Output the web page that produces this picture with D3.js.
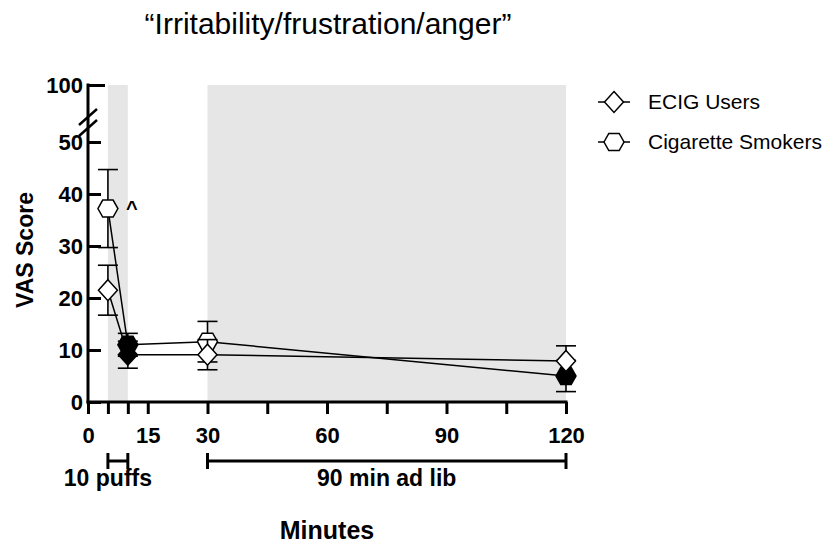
<!DOCTYPE html>
<html>
<head>
<meta charset="utf-8">
<title>Irritability/frustration/anger</title>
<script src="https://d3js.org/d3.v7.min.js"></script>
<style>
body { margin: 0; background: #fff; }
svg { font-family: "Liberation Sans", Arial, Helvetica, sans-serif; }
</style>
</head>
<body>
<svg id="chart" width="830" height="548"></svg>
<script>
// time points (minutes)
var times = [5, 10, 30, 120];

// ECIG users (diamonds)
var ecigMean = [21.5, 9.1, 9.1, 7.9];
var ecigErr = [4.8, 2.6, 2.9, 2.9];
var ecigFilled = [false, true, false, false];

// cigarette smokers (hexagons)
var cigMean = [37.2, 11.0, 11.6, 5.0];
var cigErr = [7.5, 2.2, 3.9, 3.0];
var cigFilled = [false, true, false, true];

var xTicks = [0, 5, 10, 15, 30, 45, 60, 75, 90, 105, 120];
var xLabels = [0, 15, 30, 60, 90, 120];
var yTicks = [0, 10, 20, 30, 40, 50, 100];

var shaded = [[5, 10], [30, 120]];
var brackets = [
    {from: 5, to: 10, labelAt: 5, label: "10 puffs"},
    {from: 30, to: 120, labelAt: 75, label: "90 min ad lib"}
];

var svg = d3.select("#chart");

var x = d3.scaleLinear().domain([0, 120]).range([88, 566]);
// broken axis: 0-50 on the lower segment, 50-100 squeezed on top
var y = d3.scaleLinear().domain([0, 50, 100]).range([402, 142, 85]);

// shaded periods
svg.selectAll("rect.shade")
    .data(shaded)
  .enter().append("rect")
    .attr("class", "shade")
    .attr("x", function(d) { return x(d[0]); })
    .attr("width", function(d) { return x(d[1]) - x(d[0]); })
    .attr("y", y(100))
    .attr("height", y(0) - y(100))
    .attr("fill", "#e6e6e6");

// title
svg.append("text")
    .attr("x", 328).attr("y", 34)
    .attr("text-anchor", "middle")
    .attr("font-size", 30)
    .text("\u201cIrritability/frustration/anger\u201d");

// x axis
var xAxis = d3.axisBottom(x)
    .tickValues(xTicks)
    .tickSize(12)
    .tickSizeOuter(0)
    .tickFormat(function(d) { return xLabels.indexOf(d) >= 0 ? d : ""; });

var gx = svg.append("g")
    .attr("transform", "translate(0," + y(0) + ")")
    .call(xAxis);
gx.select(".domain").attr("stroke-width", 3).attr("d", "M" + (x(0) - 1.5) + ",0H" + (x(120) + 1.5));
gx.selectAll(".tick line").attr("stroke-width", 3);
gx.selectAll(".tick text")
    .attr("font-size", 22).attr("font-weight", "bold")
    .attr("font-family", "Liberation Sans, Arial, sans-serif")
    .attr("fill", "#000").attr("dy", "1.2em");

// y axis, ticks pointing inward
var yAxis = d3.axisLeft(y)
    .tickValues(yTicks)
    .tickSize(-13)
    .tickSizeOuter(0)
    .tickPadding(5);

var gy = svg.append("g")
    .attr("transform", "translate(" + x(0) + ",0)")
    .call(yAxis);
gy.select(".domain").attr("stroke-width", 3).attr("d", "M0," + (y(100) - 1.5) + "V" + (y(0) + 1.5));
gy.selectAll(".tick line").attr("stroke-width", 3);
gy.selectAll(".tick text")
    .attr("font-size", 22).attr("font-weight", "bold")
    .attr("font-family", "Liberation Sans, Arial, sans-serif")
    .attr("fill", "#000").attr("x", -5);
// top tick extends further
gy.selectAll(".tick").filter(function(d) { return d === 100; })
    .select("line").attr("x2", 17);

// axis break marks
var breakY = [117, 128];
svg.selectAll("line.brk")
    .data(breakY)
  .enter().append("line")
    .attr("class", "brk")
    .attr("x1", x(0) - 9).attr("x2", x(0) + 9)
    .attr("y1", function(d) { return d + 8; })
    .attr("y2", function(d) { return d - 8; })
    .attr("stroke", "#000").attr("stroke-width", 2.5);

// axis titles
svg.append("text")
    .attr("transform", "translate(33,250) rotate(-90)")
    .attr("text-anchor", "middle")
    .attr("font-size", 23).attr("font-weight", "bold")
    .text("VAS Score");

svg.append("text")
    .attr("x", 327).attr("y", 539)
    .attr("text-anchor", "middle")
    .attr("font-size", 25).attr("font-weight", "bold")
    .text("Minutes");

// brackets under the x axis
var by = 461;
var bg = svg.selectAll("g.bracket")
    .data(brackets)
  .enter().append("g")
    .attr("class", "bracket");
bg.append("line")
    .attr("x1", function(d) { return x(d.from); })
    .attr("x2", function(d) { return x(d.to); })
    .attr("y1", by).attr("y2", by)
    .attr("stroke", "#000").attr("stroke-width", 3);
bg.selectAll("line.end")
    .data(function(d) { return [d.from, d.to]; })
  .enter().append("line")
    .attr("class", "end")
    .attr("x1", function(d) { return x(d); })
    .attr("x2", function(d) { return x(d); })
    .attr("y1", by - 8).attr("y2", by + 8)
    .attr("stroke", "#000").attr("stroke-width", 3);
bg.append("text")
    .attr("x", function(d) { return x(d.labelAt); })
    .attr("y", by + 25)
    .attr("text-anchor", "middle")
    .attr("font-size", 23).attr("font-weight", "bold")
    .text(function(d) { return d.label; });

// marker shapes
var diamond = "M0,-10.5L9.5,0L0,10.5L-9.5,0Z";
var hexagon = "M-10,0L-5.2,-8.5L5.2,-8.5L10,0L5.2,8.5L-5.2,8.5Z";

var series = [
    {name: "ECIG Users", mean: ecigMean, err: ecigErr, filled: ecigFilled, shape: diamond},
    {name: "Cigarette Smokers", mean: cigMean, err: cigErr, filled: cigFilled, shape: hexagon}
];

var line = d3.line()
    .x(function(d) { return x(d.t); })
    .y(function(d) { return y(d.m); });

series.forEach(function(s) {
    s.points = times.map(function(t, i) {
        return {t: t, m: s.mean[i], e: s.err[i], f: s.filled[i]};
    });
});

// connecting lines
svg.selectAll("path.series")
    .data(series)
  .enter().append("path")
    .attr("class", "series")
    .attr("d", function(s) { return line(s.points); })
    .attr("fill", "none")
    .attr("stroke", "#000")
    .attr("stroke-width", 1.5);

// error bars and markers, one group per series
series.slice().reverse().forEach(function(s) {
    var g = svg.append("g");
    var eb = g.selectAll("g.err")
        .data(s.points)
      .enter().append("g")
        .attr("class", "err");
    eb.append("line")
        .attr("x1", function(d) { return x(d.t); })
        .attr("x2", function(d) { return x(d.t); })
        .attr("y1", function(d) { return y(d.m - d.e); })
        .attr("y2", function(d) { return y(d.m + d.e); })
        .attr("stroke", "#000").attr("stroke-width", 1.6);
    eb.selectAll("line.cap")
        .data(function(d) { return [d.m - d.e, d.m + d.e].map(function(v) { return {t: d.t, v: v}; }); })
      .enter().append("line")
        .attr("class", "cap")
        .attr("x1", function(d) { return x(d.t) - 10; })
        .attr("x2", function(d) { return x(d.t) + 10; })
        .attr("y1", function(d) { return y(d.v); })
        .attr("y2", function(d) { return y(d.v); })
        .attr("stroke", "#000").attr("stroke-width", 1.6);
    g.selectAll("path.mk")
        .data(s.points)
      .enter().append("path")
        .attr("class", "mk")
        .attr("d", s.shape)
        .attr("transform", function(d) { return "translate(" + x(d.t) + "," + y(d.m) + ")"; })
        .attr("fill", function(d) { return d.f ? "#000" : "#fff"; })
        .attr("stroke", "#000")
        .attr("stroke-width", 1.5);
});

// significance mark
svg.append("text")
    .attr("x", x(11)).attr("y", y(37.2) + 6)
    .attr("text-anchor", "middle")
    .attr("font-size", 20).attr("font-weight", "bold")
    .text("^");

// legend
var lg = svg.selectAll("g.legend")
    .data(series)
  .enter().append("g")
    .attr("class", "legend")
    .attr("transform", function(d, i) { return "translate(614," + (102 + i * 40) + ")"; });
lg.append("line")
    .attr("x1", -16).attr("x2", 16)
    .attr("stroke", "#000").attr("stroke-width", 1.5);
lg.append("path")
    .attr("d", function(d) { return d.shape; })
    .attr("fill", "#fff").attr("stroke", "#000").attr("stroke-width", 1.5);
lg.append("text")
    .attr("x", 34).attr("y", 7)
    .attr("font-size", 21)
    .text(function(d) { return d.name; });
</script>
</body>
</html>
